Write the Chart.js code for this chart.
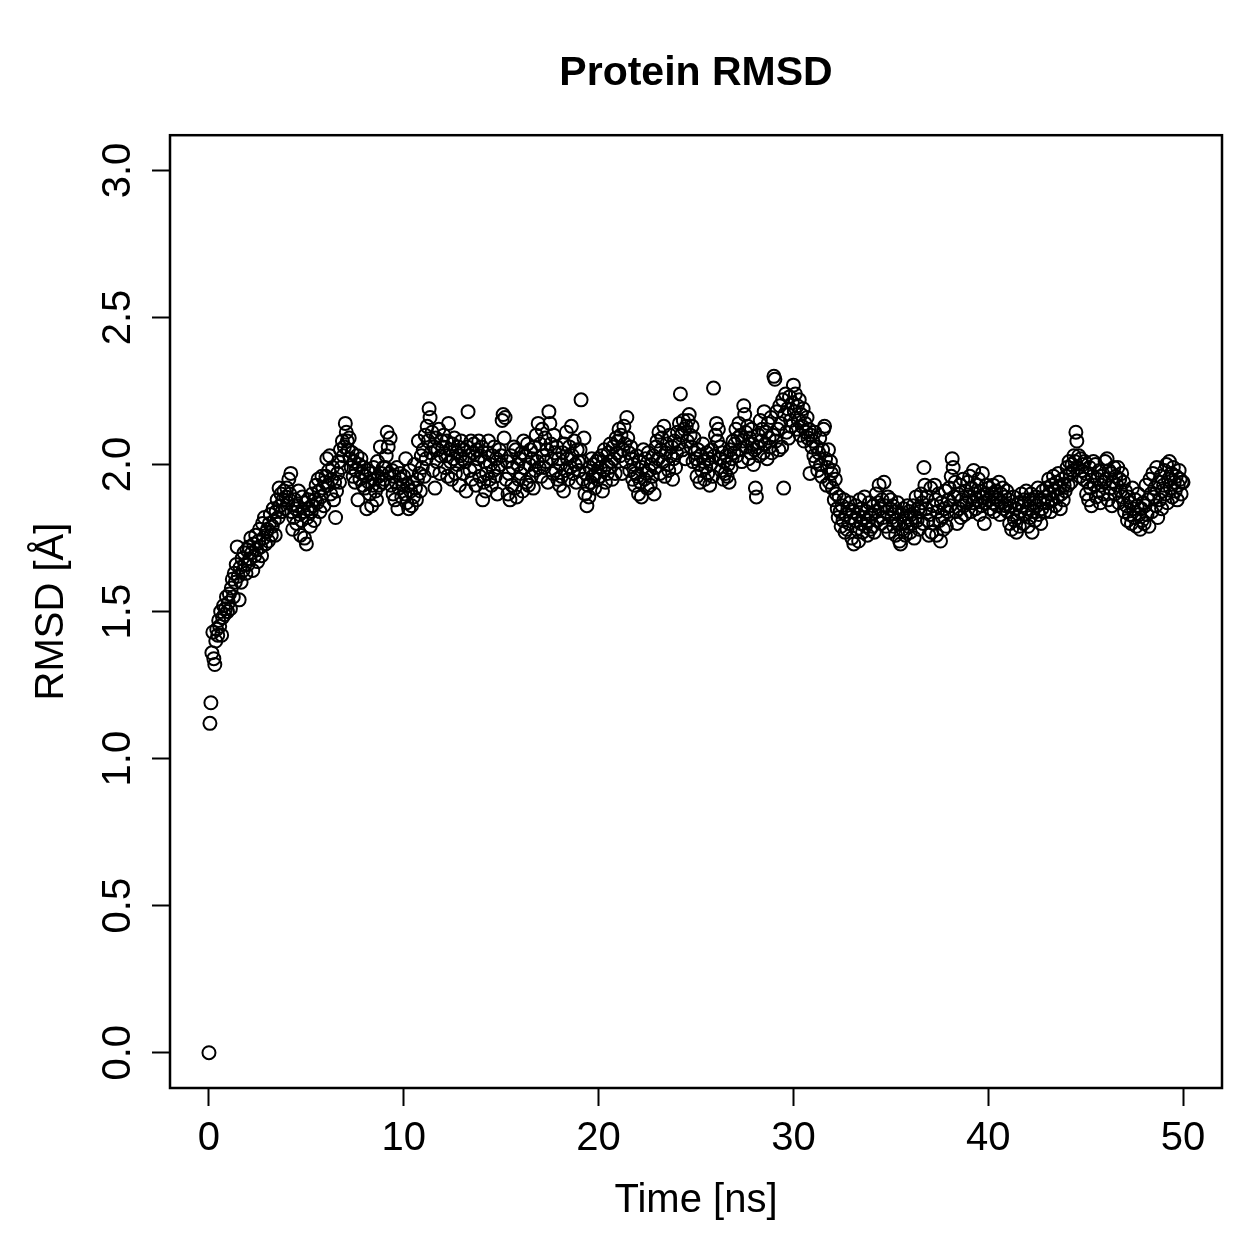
<!DOCTYPE html>
<html>
<head>
<meta charset="utf-8">
<title>Protein RMSD</title>
<script src="https://cdn.jsdelivr.net/npm/chart.js@4/dist/chart.umd.min.js"></script>
<style>
  html, body { margin: 0; padding: 0; background: #fff; }
  #wrap { width: 1259px; height: 1259px; }
</style>
</head>
<body>
<div id="wrap"><canvas id="rmsd" width="1259" height="1259"></canvas></div>
<script>
// ---- data ----
var TITLE = 'Protein RMSD';
var X_LABEL = 'Time [ns]';
var Y_LABEL = 'RMSD [Å]';
var X_TICKS = [0, 10, 20, 30, 40, 50];
var Y_TICKS = [0.0, 0.5, 1.0, 1.5, 2.0, 2.5, 3.0];
var FRAME_NS = 0.05;   // one frame every 50 ps

// RMSD per frame, 20 frames per ns
var rmsd = [
  // 0 ns
  0.00, 1.12, 1.19, 1.36, 1.43, 1.34, 1.32, 1.40, 1.44, 1.42, 1.47, 1.45, 1.50, 1.42, 1.48, 1.52, 1.49, 1.51, 1.55, 1.50,
  // 1
  1.53, 1.56, 1.51, 1.58, 1.61, 1.55, 1.63, 1.60, 1.66, 1.72, 1.62, 1.54, 1.65, 1.60, 1.68, 1.64, 1.70, 1.66, 1.63, 1.71,
  // 2
  1.66, 1.72, 1.68, 1.75, 1.70, 1.64, 1.73, 1.69, 1.76, 1.71, 1.67, 1.74, 1.78, 1.72, 1.69, 1.80, 1.75, 1.82, 1.73, 1.77,
  // 3
  1.78, 1.74, 1.80, 1.83, 1.76, 1.79, 1.85, 1.81, 1.76, 1.84, 1.88, 1.82, 1.92, 1.86, 1.90, 1.84, 1.88, 1.91, 1.85, 1.89,
  // 4
  1.92, 1.87, 1.95, 1.90, 1.97, 1.84, 1.78, 1.82, 1.88, 1.85, 1.80, 1.86, 1.91, 1.83, 1.76, 1.81, 1.89, 1.84, 1.75, 1.87,
  // 5
  1.73, 1.82, 1.88, 1.85, 1.79, 1.84, 1.90, 1.86, 1.81, 1.88, 1.93, 1.87, 1.95, 1.91, 1.84, 1.89, 1.96, 1.92, 1.86, 1.94,
  // 6
  1.96, 2.02, 1.93, 1.98, 2.03, 1.90, 1.95, 1.99, 1.88, 1.94, 1.82, 1.91, 1.97, 2.01, 1.94, 2.05, 1.99, 2.08, 2.03, 2.06,
  // 7
  2.14, 2.11, 2.08, 2.05, 2.09, 2.02, 1.99, 2.04, 1.96, 2.01, 1.94, 1.98, 2.03, 1.88, 2.00, 1.95, 2.02, 1.97, 1.93, 1.99,
  // 8
  1.92, 1.96, 1.85, 1.98, 1.94, 1.90, 1.97, 1.86, 1.93, 1.99, 1.95, 1.91, 1.88, 2.01, 1.96, 1.93, 2.06, 1.97, 1.94, 1.99,
  // 9
  1.95, 1.99, 2.03, 2.11, 2.06, 1.97, 2.09, 1.93, 1.98, 1.90, 1.96, 1.88, 1.94, 1.99, 1.85, 1.92, 1.97, 1.95, 1.89, 1.93,
  // 10
  1.96, 1.90, 2.02, 1.87, 1.93, 1.85, 1.98, 1.91, 1.86, 1.94, 1.89, 2.00, 1.92, 1.88, 1.95, 2.08, 1.97, 1.91, 2.03, 1.99,
  // 11
  2.05, 1.96, 2.10, 2.02, 2.13, 2.08, 2.19, 2.16, 2.04, 2.11, 1.98, 2.06, 1.92, 2.09, 2.01, 2.05, 2.12, 1.97, 2.03, 2.08,
  // 12
  2.06, 2.10, 1.99, 2.03, 2.08, 1.96, 2.14, 2.05, 2.01, 1.95, 2.07, 2.02, 2.09, 1.97, 2.04, 2.00, 2.06, 1.93, 2.03, 2.08,
  // 13
  2.02, 1.97, 2.05, 2.01, 1.91, 2.06, 2.18, 2.03, 1.98, 2.08, 1.95, 2.04, 2.07, 1.99, 1.93, 2.05, 2.02, 2.08, 1.96, 2.03,
  // 14
  2.06, 1.88, 1.94, 2.01, 1.91, 1.97, 2.04, 2.08, 1.95, 2.00, 1.93, 2.03, 1.98, 2.06, 1.96, 2.02, 1.90, 1.99, 2.05, 2.00,
  // 15
  2.03, 2.15, 2.17, 2.09, 2.16, 1.95, 2.01, 1.90, 1.97, 1.88, 2.03, 1.93, 1.99, 2.06, 1.92, 2.05, 1.89, 2.00, 1.95, 2.02,
  // 16
  1.97, 2.04, 1.91, 2.08, 1.99, 2.03, 1.94, 2.07, 1.93, 2.00, 2.05, 1.96, 2.02, 1.92, 2.06, 1.98, 2.10, 2.01, 2.14, 1.99,
  // 17
  2.07, 1.96, 2.12, 2.03, 1.99, 2.09, 2.01, 2.05, 1.94, 2.18, 2.14, 2.07, 2.02, 1.97, 2.10, 2.04, 1.98, 2.06, 1.95, 2.02,
  // 18
  1.93, 2.00, 1.96, 2.04, 1.91, 2.07, 1.98, 2.11, 2.02, 1.95, 2.06, 1.99, 2.13, 2.03, 1.97, 2.08, 2.00, 1.94, 2.05, 2.01,
  // 19
  1.98, 2.05, 2.22, 2.01, 1.95, 2.09, 1.90, 1.97, 1.86, 1.93, 1.89, 1.99, 1.94, 2.02, 1.96, 2.00, 1.92, 1.97, 2.01, 1.95,
  // 20
  2.02, 1.96, 1.99, 2.03, 1.91, 1.98, 2.05, 1.94, 2.00, 1.97, 2.04, 1.99, 2.07, 2.01, 1.95, 2.06, 2.02, 1.97, 2.09, 2.04,
  // 21
  2.08, 2.12, 2.03, 2.10, 1.97, 2.05, 2.13, 2.07, 2.01, 2.16, 2.09, 2.04, 1.98, 2.06, 2.02, 1.95, 2.00, 1.93, 1.97, 2.03,
  // 22
  1.96, 1.90, 2.01, 1.94, 1.89, 1.99, 2.05, 1.95, 2.02, 1.97, 1.92, 2.04, 1.98, 1.93, 2.00, 1.96, 2.03, 1.90, 1.99, 2.06,
  // 23
  2.08, 2.02, 2.11, 1.97, 2.05, 2.09, 2.01, 2.13, 1.96, 2.04, 2.07, 2.00, 1.98, 2.10, 2.03, 2.06, 1.95, 2.02, 2.08, 1.99,
  // 24
  2.04, 2.11, 2.07, 2.14, 2.24, 2.10, 2.05, 2.15, 2.12, 2.02, 2.13, 2.08, 2.15, 2.17, 2.10, 2.06, 2.13, 2.01, 2.09, 2.04,
  // 25
  2.02, 1.96, 2.05, 2.00, 1.94, 2.03, 1.98, 2.07, 2.01, 1.95, 1.99, 2.04, 1.97, 2.02, 1.93, 2.00, 2.05, 1.96, 2.26, 2.03,
  // 26
  2.10, 2.14, 2.08, 2.12, 2.02, 2.06, 1.98, 2.04, 1.95, 2.01, 1.97, 2.03, 1.96, 2.00, 1.94, 2.05, 1.99, 2.02, 2.08, 2.04,
  // 27
  2.07, 2.12, 2.03, 2.09, 2.14, 2.05, 2.10, 2.01, 2.08, 2.20, 2.17, 2.11, 2.06, 2.13, 2.02, 2.09, 2.04, 2.12, 2.07, 2.00,
  // 28
  2.05, 1.92, 1.89, 2.06, 2.10, 2.03, 2.15, 2.08, 2.12, 2.04, 2.18, 2.07, 2.11, 2.02, 2.14, 2.09, 2.06, 2.16, 2.04, 2.10,
  // 29
  2.30, 2.29, 2.08, 2.18, 2.12, 2.05, 2.20, 2.14, 2.06, 2.22, 1.92, 2.17, 2.24, 2.11, 2.19, 2.09, 2.23, 2.15, 2.13, 2.21,
  // 30
  2.27, 2.18, 2.24, 2.12, 2.20, 2.15, 2.22, 2.10, 2.17, 2.13, 2.19, 2.08, 2.14, 2.11, 2.16, 2.09, 2.12, 1.97, 2.10, 2.06,
  // 31
  2.08, 2.03, 2.11, 2.01, 2.06, 1.98, 2.04, 2.09, 2.00, 1.96, 2.05, 2.12, 2.13, 2.02, 1.93, 1.99, 2.05, 1.94, 2.01, 1.97,
  // 32
  1.92, 1.98, 1.88, 1.95, 1.90, 1.85, 1.82, 1.89, 1.84, 1.79, 1.86, 1.81, 1.88, 1.77, 1.83, 1.78, 1.85, 1.80, 1.87, 1.82,
  // 33
  1.75, 1.84, 1.73, 1.81, 1.86, 1.78, 1.83, 1.74, 1.88, 1.80, 1.85, 1.77, 1.82, 1.89, 1.79, 1.84, 1.76, 1.81, 1.87, 1.78,
  // 34
  1.83, 1.79, 1.86, 1.77, 1.84, 1.90, 1.81, 1.87, 1.93, 1.85, 1.80, 1.88, 1.82, 1.94, 1.86, 1.79, 1.84, 1.89, 1.77, 1.85,
  // 35
  1.88, 1.82, 1.86, 1.79, 1.84, 1.76, 1.81, 1.87, 1.80, 1.74, 1.73, 1.83, 1.78, 1.85, 1.80, 1.76, 1.82, 1.86, 1.79, 1.84,
  // 36
  1.77, 1.83, 1.80, 1.86, 1.75, 1.82, 1.89, 1.81, 1.85, 1.78, 1.84, 1.90, 1.87, 1.80, 1.99, 1.93, 1.85, 1.89, 1.81, 1.76,
  // 37
  1.83, 1.92, 1.77, 1.86, 1.80, 1.93, 1.88, 1.76, 1.84, 1.90, 1.81, 1.74, 1.87, 1.82, 1.78, 1.85, 1.91, 1.79, 1.84, 1.88,
  // 38
  1.92, 1.86, 1.96, 2.02, 1.99, 1.89, 1.94, 1.84, 1.80, 1.90, 1.85, 1.93, 1.82, 1.88, 1.95, 1.86, 1.83, 1.91, 1.87, 1.94,
  // 39
  1.89, 1.96, 1.84, 1.92, 1.87, 1.98, 1.90, 1.85, 1.93, 1.88, 1.95, 1.83, 1.91, 1.86, 1.97, 1.89, 1.80, 1.87, 1.93, 1.90,
  // 40
  1.88, 1.92, 1.85, 1.90, 1.87, 1.93, 1.84, 1.89, 1.91, 1.86, 1.88, 1.94, 1.83, 1.90, 1.87, 1.92, 1.85, 1.89, 1.86, 1.91,
  // 41
  1.84, 1.88, 1.80, 1.86, 1.78, 1.83, 1.89, 1.81, 1.85, 1.77, 1.82, 1.87, 1.79, 1.84, 1.90, 1.86, 1.80, 1.88, 1.83, 1.91,
  // 42
  1.85, 1.79, 1.88, 1.82, 1.90, 1.77, 1.84, 1.87, 1.81, 1.89, 1.86, 1.92, 1.83, 1.88, 1.80, 1.85, 1.91, 1.87, 1.84, 1.89,
  // 43
  1.92, 1.87, 1.95, 1.90, 1.84, 1.93, 1.88, 1.96, 1.91, 1.86, 1.94, 1.89, 1.97, 1.92, 1.85, 1.90, 1.95, 1.88, 1.93, 1.91,
  // 44
  1.96, 1.99, 1.93, 2.01, 1.97, 1.94, 2.00, 1.98, 2.03, 2.01, 2.11, 2.08, 1.99, 2.03, 1.96, 2.02, 1.98, 2.00, 1.95, 2.01,
  // 45
  1.97, 1.90, 1.94, 1.88, 1.99, 1.92, 1.86, 1.96, 2.01, 1.93, 2.00, 1.89, 1.95, 1.91, 1.98, 1.87, 1.93, 1.96, 1.90, 1.94,
  // 46
  2.01, 1.95, 2.02, 1.88, 1.98, 1.92, 1.97, 1.86, 1.94, 1.99, 1.90, 1.96, 1.93, 1.99, 1.87, 1.95, 1.91, 1.97, 1.89, 1.94,
  // 47
  1.84, 1.91, 1.86, 1.81, 1.89, 1.83, 1.87, 1.80, 1.92, 1.85, 1.82, 1.88, 1.79, 1.86, 1.90, 1.83, 1.78, 1.85, 1.81, 1.87,
  // 48
  1.80, 1.86, 1.93, 1.83, 1.88, 1.79, 1.95, 1.90, 1.84, 1.97, 1.89, 1.92, 1.86, 1.99, 1.82, 1.94, 1.88, 1.96, 1.85, 1.91,
  // 49
  1.93, 1.98, 1.90, 2.00, 1.87, 1.95, 2.01, 1.92, 1.97, 1.89, 1.99, 1.94, 1.91, 1.96, 1.88, 1.93, 1.98, 1.95, 1.90, 1.94,
  // 50
  1.94
];

// ---- layout (px) ----
var W = 1259, PLOT_L = 170, PLOT_R = 1222, PLOT_B = 1088;
var FONT = '"Liberation Sans", Arial, Helvetica, sans-serif';

var points = rmsd.map(function (v, i) { return { x: i * FRAME_NS, y: v }; });

// R-style closed box round the plot region
var boxPlug = {
  id: 'rbox',
  afterDraw: function (ch) {
    var a = ch.chartArea, c = ch.ctx;
    c.save(); c.strokeStyle = '#000'; c.lineWidth = 2.5;
    c.strokeRect(a.left, a.top, a.right - a.left, a.bottom - a.top);
    c.restore();
  }
};

new Chart(document.getElementById('rmsd').getContext('2d'), {
  type: 'scatter',
  data: {
    datasets: [{
      data: points,
      pointStyle: 'circle', pointRadius: 6.5, pointHoverRadius: 6.5,
      borderColor: '#000', backgroundColor: 'rgba(0,0,0,0)', borderWidth: 2
    }]
  },
  options: {
    responsive: false, animation: false, devicePixelRatio: 1,
    layout: { padding: { left: 0, top: 0, right: W - PLOT_R, bottom: 0 } },
    plugins: {
      legend: { display: false }, tooltip: { enabled: false },
      title: {
        display: true, text: TITLE, fullSize: false, color: '#000',
        font: { family: FONT, size: 41, weight: 'bold' }, padding: { top: 49, bottom: 37 }
      }
    },
    scales: {
      x: {
        type: 'linear', min: -2, max: 52,
        afterFit: function (s) { s.height = W - PLOT_B; },
        afterBuildTicks: function (s) { s.ticks = X_TICKS.map(function (v) { return { value: v }; }); },
        border: { display: false },
        grid: { drawOnChartArea: false, drawTicks: true, tickLength: 18, tickWidth: 2, tickColor: '#000' },
        ticks: { color: '#000', padding: 9, maxRotation: 0, font: { family: FONT, size: 40 }, callback: function (v) { return String(v); } },
        title: { display: true, text: X_LABEL, color: '#000', font: { family: FONT, size: 40 }, padding: { top: 0, bottom: 34 } }
      },
      y: {
        type: 'linear', min: -0.12, max: 3.12,
        afterFit: function (s) { s.width = PLOT_L; },
        afterBuildTicks: function (s) { s.ticks = Y_TICKS.map(function (v) { return { value: v }; }); },
        border: { display: false },
        grid: { drawOnChartArea: false, drawTicks: true, tickLength: 18, tickWidth: 2, tickColor: '#000' },
        ticks: { color: '#000', padding: 5, minRotation: 90, maxRotation: 90, crossAlign: 'center', font: { family: FONT, size: 40 }, callback: function (v) { return Number(v).toFixed(1); } },
        title: { display: true, text: Y_LABEL, color: '#000', font: { family: FONT, size: 40 }, padding: { top: 28, bottom: 0 } }
      }
    }
  },
  plugins: [boxPlug]
});
</script>
</body>
</html>
